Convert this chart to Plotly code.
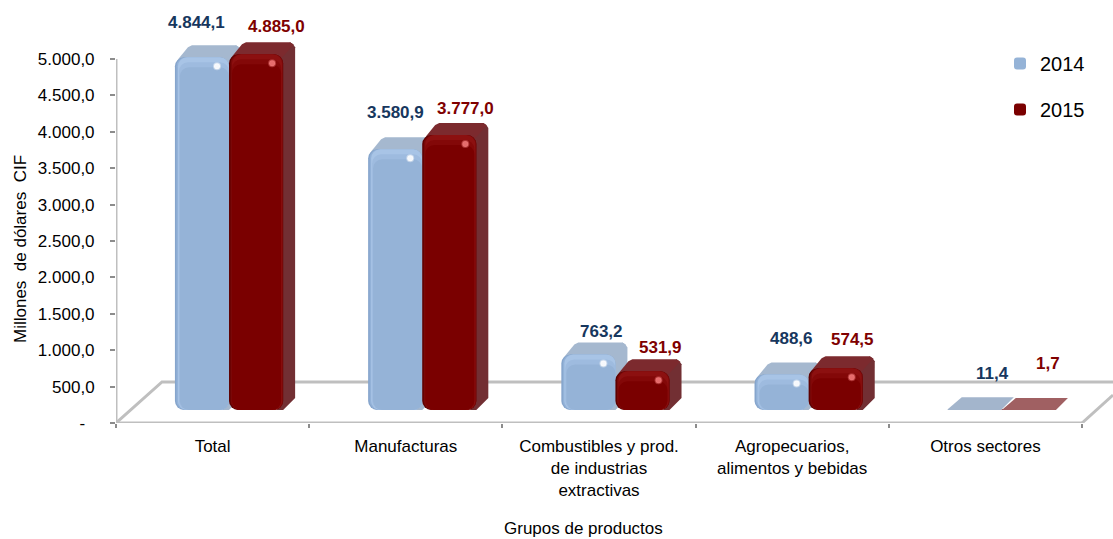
import plotly.graph_objects as go

CATEGORIES = ["Total", "Manufacturas", "Combustibles y prod.<br>de industrias<br>extractivas",
              "Agropecuarios,<br>alimentos y bebidas", "Otros sectores"]
VALUES_2014 = [4844.1, 3580.9, 763.2, 488.6, 11.4]
VALUES_2015 = [4885.0, 3777.0, 531.9, 574.5, 1.7]
LABELS_2014 = ["4.844,1", "3.580,9", "763,2", "488,6", "11,4"]
LABELS_2015 = ["4.885,0", "3.777,0", "531,9", "574,5", "1,7"]
Y_TICKS = [0, 500, 1000, 1500, 2000, 2500, 3000, 3500, 4000, 4500, 5000]
Y_TICK_TEXT = ["-\u00a0\u00a0", "500,0", "1.000,0", "1.500,0", "2.000,0", "2.500,0", "3.000,0",
               "3.500,0", "4.000,0", "4.500,0", "5.000,0"]

# geometry (pixel scale of the axes and 3D projection)
W, H = 1113, 539
LEFT, BOTTOM = 116, 423
PX_X, PX_Y = 193.2, 0.0728
BASE = 13 / PX_Y            # bars stand inside the floor
BAR_W = 0.28
GROUP_C = 0.585
DX, DY = 12 / PX_X, 12 / PX_Y
XR = [0, (W - LEFT) / PX_X]
YR = [0, BOTTOM / PX_Y]
px = lambda n: n / PX_X
py = lambda n: n / PX_Y
paper_x = lambda p: (p - LEFT) / (W - LEFT)
paper_y = lambda p: (BOTTOM - p) / BOTTOM

FONT = "Liberation Sans, Arial, sans-serif"
BLUE_TXT, RED_TXT = "#17375E", "#7F0000"
GRID = "#BFBFBF"
FLAT_2014, FLAT_2015 = "#A3B5CC", "#A06062"

fig = go.Figure()


def line(xs, ys, color=GRID, width=3):
    fig.add_trace(go.Scatter(x=xs, y=ys, mode="lines", line=dict(color=color, width=width),
                             showlegend=False, hoverinfo="skip"))


def faces(xs, ys, color):
    fig.add_trace(go.Scatter(x=xs, y=ys, mode="lines", fill="toself", fillcolor=color,
                             line=dict(width=0, color=color), showlegend=False, hoverinfo="skip"))


# floor
back_y = 41 / PX_Y
back_x = 46 / PX_X
line([0, back_x, XR[1]], [0, back_y, back_y])
line([5, 5 + 31 / PX_X], [0, 28 / PX_Y])
line([0, 5], [0, 0])
line([0, 0], [0, 5000])


def shell(x0, values, top_color, flat_color, side_color):
    """Top and side faces of the extruded bars, derived from the values."""
    for i, v in enumerate(values):
        l = i + x0
        r = l + BAR_W
        t = BASE + v
        if v > 20:
            faces([r - px(6), r, r + DX, r + DX, r + DX - px(2), r + DX - px(5), r - px(6), r - px(6)],
                  [BASE, BASE, BASE + DY, t + DY - py(5), t + DY - py(2), t + DY, t, BASE], side_color)
            faces([l + px(1), l + px(4), l + DX + px(1), l + DX + px(5), r + DX - px(5), r + DX - px(2),
                   r + DX - px(2), r, r - px(6), l + px(6), l + px(1)],
                  [t - py(6), t - py(1), t + DY - py(2), t + DY, t + DY, t + DY - py(2),
                   t + DY - py(3), t - py(2), t - py(6), t - py(6), t - py(6)], top_color)
        else:
            faces([l, l + DX + px(2), r + DX, r, l], [t, t + DY, t + DY, t, t], flat_color)


shell(GROUP_C - BAR_W, VALUES_2014, "#A5B8CF", FLAT_2014, "#A5B8CF")
shell(GROUP_C, VALUES_2015, "#7C2A2E", FLAT_2015, "#722F33")


def front(x0, values, layers, flat_color, name):
    for j, (il, ir, it, color) in enumerate(layers):
        xs, ys, ws, cs = [], [], [], []
        for i, v in enumerate(values):
            flat = v * PX_Y < 2
            if flat and j > 0:
                continue
            if v * PX_Y > it + 1 or it == 0:
                xs.append(i + x0 + px(il) + (BAR_W - px(il + ir)) / 2)
                ws.append(BAR_W - px(il + ir))
                ys.append(v - py(it))
                cs.append(flat_color if flat else color)
        last = j == len(layers) - 1
        fig.add_trace(go.Bar(x=xs, y=ys, base=BASE, width=ws, marker=dict(color=cs, line=dict(width=0)),
                             name=name, legendgroup=name, showlegend=last, hoverinfo="skip",
                             xaxis="x2", yaxis="y2"))


front(GROUP_C - BAR_W, VALUES_2014,
      [(0, 0, 0, "#86A5CC"), (1.5, 0, 0, "#93B2D8"), (3, 0, 0, "#A8C4E6"), (4, 0, 5, "#9EBBDF"),
       (5, 0, 10, "#95B3D7")], FLAT_2014, "2014")
front(GROUP_C, VALUES_2015,
      [(0, 0, 0, "#5E0000"), (1.5, 0, 0, "#7A0808"), (3, 1, 0, "#8C1010"), (3, 2, 5, "#830808"),
       (3, 2, 10, "#7A0000")], FLAT_2015, "2015")

# specular spots
big = [i for i in range(4)]
fig.add_trace(go.Scatter(x=[i + GROUP_C - px(12) for i in big], y=[BASE + VALUES_2014[i] - py(9) for i in big],
                         mode="markers",
                         marker=dict(color="rgba(255,255,255,0.9)", size=6,
                                     line=dict(color="rgba(255,255,255,0.4)", width=2)),
                         showlegend=False, hoverinfo="skip", xaxis="x2", yaxis="y2"))
fig.add_trace(go.Scatter(x=[i + GROUP_C + BAR_W - px(11) for i in big], y=[BASE + VALUES_2015[i] - py(9) for i in big],
                         mode="markers",
                         marker=dict(color="rgba(240,120,120,0.9)", size=6,
                                     line=dict(color="rgba(240,120,120,0.4)", width=2)),
                         showlegend=False, hoverinfo="skip", xaxis="x2", yaxis="y2"))

# data labels (offsets in px from the top of the bar)
SHIFT_2014 = [(-5, 35), (0, 37), (13, 23), (10, 36), (18, 36)]
SHIFT_2015 = [(20, 28), (16, 27), (18, 24), (17, 29), (19, 46)]
ann = []
for i in range(5):
    for vals, labs, shift, off, col in ((VALUES_2014, LABELS_2014, SHIFT_2014, -BAR_W / 2, BLUE_TXT),
                                        (VALUES_2015, LABELS_2015, SHIFT_2015, BAR_W / 2, RED_TXT)):
        ann.append(dict(x=i + GROUP_C + off, y=BASE + vals[i], xref="x", yref="y", text=f"<b>{labs[i]}</b>",
                        showarrow=False, xshift=shift[i][0], yshift=shift[i][1],
                        font=dict(family=FONT, size=17, color=col)))
ann.append(dict(x=paper_x(20), y=paper_y(249), xref="paper", yref="paper",
                text="Millones\u00a0\u00a0de\u00a0dólares\u00a0\u00a0CIF", textangle=-90,
                showarrow=False, xanchor="center", yanchor="middle", font=dict(family=FONT, size=17, color="#000")))
ann.append(dict(x=paper_x(583), y=paper_y(528), xref="paper", yref="paper", text="Grupos de productos",
                showarrow=False, xanchor="center", yanchor="middle", font=dict(family=FONT, size=17, color="#000")))

fig.update_layout(
    width=W, height=H, margin=dict(l=LEFT, r=0, t=0, b=H - BOTTOM), paper_bgcolor="white", plot_bgcolor="white",
    barmode="overlay", barcornerradius=9, annotations=ann,
    font=dict(family=FONT, size=17, color="#000"),
    xaxis=dict(range=XR, showgrid=False, zeroline=False, showline=False, tickmode="array",
               tickvals=[i + 0.5 for i in range(5)], ticktext=CATEGORIES, ticks="", ticklabelstandoff=11,
               minor=dict(tickmode="array", tickvals=[0, 1, 2, 3, 4, 5], ticks="outside", ticklen=4, tickwidth=2,
                          tickcolor="#8C8C8C", showgrid=False)),
    yaxis=dict(range=YR, showgrid=False, zeroline=False, showline=False, tickmode="array", tickvals=Y_TICKS,
               ticktext=Y_TICK_TEXT, ticks="outside", ticklen=5, tickwidth=2, tickcolor="#8C8C8C",
               ticklabelstandoff=12),
    xaxis2=dict(range=XR, overlaying="x", visible=False, anchor="y2"),
    yaxis2=dict(range=YR, overlaying="y", visible=False, anchor="x2"),
    legend=dict(x=paper_x(1000), y=paper_y(44), xanchor="left", yanchor="top", bgcolor="rgba(0,0,0,0)", itemwidth=30,
                traceorder="grouped", tracegroupgap=17, font=dict(family=FONT, size=20, color="#000")),
    showlegend=True,
)
fig.write_html("out.html", config={"displayModeBar": False}, post_script="document.body.style.margin='0';")
